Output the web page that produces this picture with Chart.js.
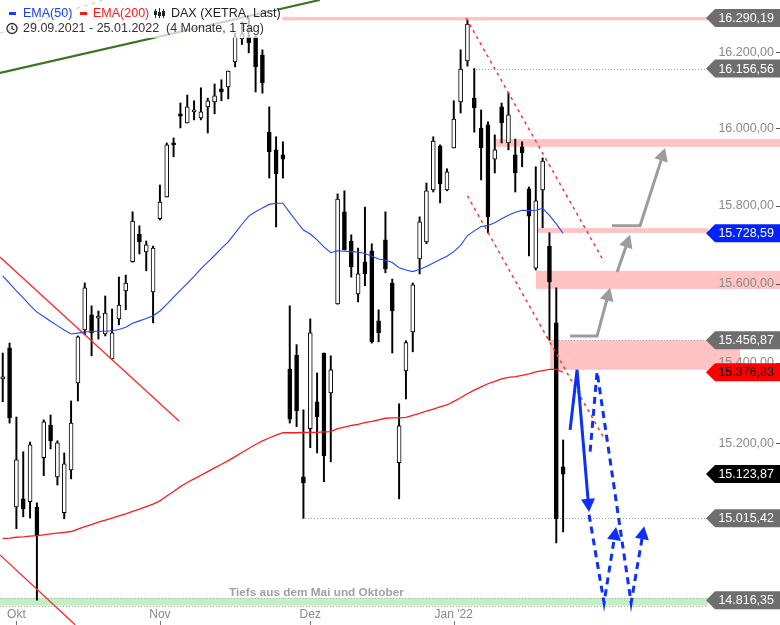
<!DOCTYPE html>
<html>
<head>
<meta charset="utf-8">
<script src="https://cdn.jsdelivr.net/npm/chart.js@4.4.1/dist/chart.umd.min.js"></script>
<style>
  html, body { margin: 0; padding: 0; background: #fff; }
  #chart { display: block; }
</style>
</head>
<body>
<canvas id="chart" width="780" height="625"></canvas>
<script>
// trading days shown
const dates = [
  '29.09.2021', '30.09.2021',
  '01.10.2021', '04.10.2021', '05.10.2021', '06.10.2021', '07.10.2021', '08.10.2021', '11.10.2021',
  '12.10.2021', '13.10.2021', '14.10.2021', '15.10.2021', '18.10.2021', '19.10.2021', '20.10.2021',
  '21.10.2021', '22.10.2021', '25.10.2021', '26.10.2021', '27.10.2021', '28.10.2021', '29.10.2021',
  '01.11.2021', '02.11.2021', '03.11.2021', '04.11.2021', '05.11.2021', '08.11.2021', '09.11.2021',
  '10.11.2021', '11.11.2021', '12.11.2021', '15.11.2021', '16.11.2021', '17.11.2021', '18.11.2021',
  '19.11.2021', '22.11.2021', '23.11.2021', '24.11.2021', '25.11.2021', '26.11.2021', '29.11.2021',
  '30.11.2021',
  '01.12.2021', '02.12.2021', '03.12.2021', '06.12.2021', '07.12.2021', '08.12.2021', '09.12.2021',
  '10.12.2021', '13.12.2021', '14.12.2021', '15.12.2021', '16.12.2021', '17.12.2021', '20.12.2021',
  '21.12.2021', '22.12.2021', '23.12.2021', '27.12.2021', '28.12.2021', '29.12.2021', '30.12.2021',
  '03.01.2022', '04.01.2022', '05.01.2022', '06.01.2022', '07.01.2022', '10.01.2022', '11.01.2022',
  '12.01.2022', '13.01.2022', '14.01.2022', '17.01.2022', '18.01.2022', '19.01.2022', '20.01.2022',
  '21.01.2022', '24.01.2022', '25.01.2022'
];

const open = [
  15360, 15438, 15043, 15063, 15056, 15043, 15164, 15245, 15117, 15029,
  15134, 15350, 15483, 15521, 15513, 15473, 15410, 15511, 15582, 15656,
  15727, 15681, 15579, 15766, 15822, 15962, 16038, 16014, 16043, 16027,
  16056, 16069, 16103, 16108, 16174, 16235, 16240, 16240, 16192, 15990,
  15944, 15931, 15385, 15420, 15117, 15236, 15303, 15425, 15325, 15549,
  15784, 15709, 15574, 15656, 15684, 15506, 15712, 15602, 15152, 15380,
  15478, 15663, 15707, 15840, 15954, 15840, 15949, 16069, 16177, 16079,
  16001, 16009, 15920, 16056, 15962, 15931, 15952, 15843, 15640, 15840,
  15696, 15501, 15142
];
const high = [
  15425, 15450, 15265, 15179, 15203, 15053, 15258, 15270, 15206, 15176,
  15305, 15468, 15602, 15544, 15531, 15569, 15536, 15617, 15622, 15784,
  15748, 15709, 15696, 15853, 15962, 15975, 16066, 16087, 16072, 16106,
  16079, 16116, 16127, 16150, 16250, 16280, 16290.19, 16243, 16206, 16056,
  15978, 15965, 15544, 15446, 15283, 15511, 15375, 15425, 15418, 15830,
  15838, 15725, 15691, 15796, 15702, 15534, 15784, 15612, 15298, 15456,
  15602, 15771, 15858, 15978, 15957, 15895, 16072, 16206, 16285, 16156.56,
  16048, 16017, 15983, 16066, 16092, 15972, 15965, 15848, 15900, 15923,
  15730, 15590, 15208
];
const low = [
  15303, 15250, 14990, 15019, 15016, 14816.35, 15120, 15186, 15097, 15014,
  15112, 15305, 15471, 15418, 15460, 15468, 15410, 15496, 15534, 15655,
  15676, 15633, 15501, 15763, 15822, 15926, 16001, 16014, 16022, 16022,
  15988, 16038, 16072, 16077, 16161, 16220, 16198, 16095, 16092, 15871,
  15745, 15871, 15250, 15241, 15015.42, 15189, 15176, 15105, 15154, 15548,
  15686, 15617, 15554, 15595, 15450, 15453, 15628, 15425, 15063, 15310,
  15428, 15625, 15702, 15835, 15807, 15838, 15949, 16040, 16163, 15990,
  15866, 15730, 15884, 15962, 15944, 15835, 15900, 15671, 15635, 15743,
  15456.87, 14955, 14982
];
const close = [
  15365, 15263, 15159, 15038, 15196, 14972, 15253, 15206, 15201, 15149,
  15250, 15466, 15590, 15476, 15518, 15526, 15476, 15546, 15602, 15760,
  15707, 15699, 15691, 15809, 15957, 15957, 16032, 16056, 16048, 16043,
  16072, 16085, 16095, 16150, 16240, 16248, 16224, 16161, 16119, 15939,
  15882, 15920, 15260, 15280, 15102, 15476, 15265, 15169, 15383, 15817,
  15686, 15643, 15625, 15625, 15453, 15476, 15638, 15531, 15243, 15451,
  15597, 15758, 15838, 15967, 15856, 15887, 16024, 16155, 16274, 16053,
  15949, 15771, 15944, 16014, 16035, 15884, 15936, 15773, 15812, 15915,
  15605, 15014, 15123.87
];

const ema50 = [
  15620, 15601, 15582, 15564, 15545, 15528, 15517, 15505, 15494, 15483,
  15473, 15475, 15478, 15479, 15480, 15480, 15481, 15484, 15490, 15500,
  15506, 15512, 15519, 15531, 15548, 15566, 15584, 15601, 15619, 15638,
  15655, 15672, 15690, 15707, 15729, 15752, 15773, 15784, 15794, 15803,
  15806, 15806, 15782, 15759, 15737, 15727, 15712, 15694, 15679, 15684,
  15683, 15682, 15681, 15677, 15670, 15663, 15660, 15654, 15641, 15635,
  15631, 15637, 15644, 15653, 15662, 15670, 15682, 15698, 15723, 15735,
  15746, 15749, 15756, 15766, 15775, 15783, 15788, 15787, 15788, 15793,
  15775, 15753, 15728.59
];
const ema200 = [
  14966, 14967, 14969, 14970, 14972, 14973, 14975, 14977, 14979, 14981,
  14983, 14989, 14995, 15000, 15006, 15011, 15016, 15021, 15026, 15032,
  15038, 15044, 15050, 15058, 15070, 15081, 15093, 15103, 15112, 15121,
  15130, 15139, 15148, 15157, 15167, 15177, 15187, 15197, 15206, 15213,
  15220, 15226, 15226, 15226, 15227, 15227, 15227, 15228, 15229, 15236,
  15240, 15244, 15247, 15251, 15254, 15258, 15262, 15263, 15263, 15264,
  15269, 15274, 15280, 15285, 15290, 15295, 15304, 15313, 15323, 15332,
  15340, 15348, 15354, 15360, 15364, 15366, 15369, 15373, 15378, 15381,
  15384, 15384, 15376.83
];

const priceTicks = [15200, 15400, 15600, 15800, 16000, 16200];
const monthNames = { '10': 'Okt', '11': 'Nov', '12': 'Dez', '01': "Jan '22" };

// drawn lines, [day index, price]
const redTrendA = [[-0.4, 15668], [25.8, 15255]];
const redTrendB = [[-0.4, 14926], [10.6, 14757]];
const greenTrend = [[-0.4, 16145], [46.4, 16338]];
const greenDashed = [[-0.4, 16250], [14.7, 16338]];
const redDotA = [[67.8, 16290], [88.0, 15656]];
const redDotB = [[68.0, 15825], [87.85, 15216]];

// zones [from, to, low, high]
const pinkZones = [
  [40.9, 103.2, 16284, 16293],
  [71.9, 113.8, 15952, 15972],
  [78.2, 103.2, 15730, 15742],
  [78.0, 113.8, 15587, 15633],
  [80.1, 107.9, 15383, 15456.87]
];
const greenZone = [-0.4, 103.2, 14803, 14822];
const dottedLevels = [[68.8, 16156.56], [80.5, 15456.87], [43.8, 15015.42]];

const grayArrows = [
  [[83.02, 15468], [86.97, 15468], [88.87, 15590]],
  [[89.90, 15630], [91.80, 15725]],
  [[89.16, 15748], [93.26, 15748], [96.92, 15949]]
];
const blueArrows = [
  [[83.02, 15233], [84.04, 15383], [85.80, 15031]],
  [[85.80, 15024], [87.99, 14810], [89.75, 14994]],
  [[85.95, 15179], [86.97, 15378], [91.95, 14810], [93.85, 14996]]
];

const FONT = "'Liberation Sans', Arial, sans-serif";
const xMin = -0.4, xMax = 103.2;

const fmt = v => {
  const s = Number(v).toFixed(2).split('.');
  return s[0].replace(/\B(?=(\d{3})+(?!\d))/g, '.') + ',' + s[1];
};

const monthTicks = [];
const monthLabels = [];
dates.forEach((d, i) => {
  const m = d.slice(3, 5);
  if (i > 0 && m !== dates[i - 1].slice(3, 5)) {
    monthTicks.push(i);
    monthLabels.push(monthNames[m]);
  }
});

const pts = arr => arr.map(p => ({ x: p[0], y: p[1] }));
const lineSet = (data, color, width, dash, extra) => Object.assign({
  type: 'line', data: pts(data), borderColor: color, borderWidth: width,
  borderDash: dash || [], pointRadius: 0, fill: false, order: 0
}, extra || {});

function drawArrow(ctx, p, color, dash) {
  const n = p.length;
  const tx = p[n - 1][0], ty = p[n - 1][1];
  const ang = Math.atan2(ty - p[n - 2][1], tx - p[n - 2][0]);
  const len = 13, hw = 7;
  const bx = tx - Math.cos(ang) * len, by = ty - Math.sin(ang) * len;
  ctx.strokeStyle = color;
  ctx.fillStyle = color;
  ctx.lineWidth = 3;
  ctx.setLineDash(dash);
  ctx.beginPath();
  ctx.moveTo(p[0][0], p[0][1]);
  for (let i = 1; i < n - 1; i++) ctx.lineTo(p[i][0], p[i][1]);
  ctx.lineTo(bx + Math.cos(ang) * 2, by + Math.sin(ang) * 2);
  ctx.stroke();
  ctx.setLineDash([]);
  ctx.beginPath();
  ctx.moveTo(tx, ty);
  ctx.lineTo(bx - Math.sin(ang) * hw, by + Math.cos(ang) * hw);
  ctx.lineTo(bx + Math.sin(ang) * hw, by - Math.cos(ang) * hw);
  ctx.closePath();
  ctx.fill();
}

const levelsPlugin = {
  id: 'levels',
  beforeDraw(chart) {
    const { ctx, scales: { x, y } } = chart;
    const px = v => x.getPixelForValue(v), py = v => y.getPixelForValue(v);
    ctx.save();
    ctx.fillStyle = '#ffc3c3';
    pinkZones.forEach(z => {
      ctx.fillRect(px(z[0]), py(z[3]), px(z[1]) - px(z[0]), py(z[2]) - py(z[3]));
    });
    // green zone
    const g = greenZone;
    const gy1 = py(g[3]), gy2 = py(g[2]);
    ctx.fillStyle = '#c6eec6';
    ctx.fillRect(px(g[0]), gy1, px(g[1]) - px(g[0]), gy2 - gy1);
    ctx.strokeStyle = '#9cbf9c';
    ctx.lineWidth = 1;
    ctx.setLineDash([1, 2]);
    [gy1, gy2].forEach(yy => {
      ctx.beginPath();
      ctx.moveTo(px(g[0]), Math.round(yy) + 0.5);
      ctx.lineTo(px(g[1]), Math.round(yy) + 0.5);
      ctx.stroke();
    });
    // dotted price levels
    ctx.strokeStyle = '#9a9a9a';
    dottedLevels.forEach(l => {
      const yy = Math.round(py(l[1])) + 0.5;
      ctx.beginPath();
      ctx.moveTo(px(l[0]), yy);
      ctx.lineTo(px(xMax), yy);
      ctx.stroke();
    });
    ctx.restore();
  }
};

const overlayPlugin = {
  id: 'overlay',
  afterDraw(chart) {
    const { ctx, scales: { x, y }, chartArea: ca } = chart;
    const px = v => x.getPixelForValue(v), py = v => y.getPixelForValue(v);
    const W = chart.width, H = chart.height;
    ctx.save();

    grayArrows.forEach(a => drawArrow(ctx, a.map(p => [px(p[0]), py(p[1])]), '#9c9c9c', []));
    blueArrows.forEach((a, k) => drawArrow(ctx, a.map(p => [px(p[0]), py(p[1])]), '#0b2fff', k === 0 ? [] : [7, 5]));

    // label for the green zone
    ctx.fillStyle = '#a0a0a0';
    ctx.font = 'bold 11.8px ' + FONT;
    ctx.textAlign = 'center';
    ctx.textBaseline = 'middle';
    ctx.fillText('Tiefs aus dem Mai und Oktober', px(45.9), py(14834.6));

    // small tick dashes on the price axis
    ctx.strokeStyle = '#555';
    ctx.lineWidth = 1;
    y.ticks.forEach(t => {
      const yy = Math.round(py(t.value)) + 0.5;
      ctx.beginPath();
      ctx.moveTo(W - 4, yy);
      ctx.lineTo(W, yy);
      ctx.stroke();
    });
    // month tick marks
    ctx.strokeStyle = '#777';
    monthTicks.forEach(m => {
      const xx = Math.round(px(m)) + 0.5;
      ctx.beginPath();
      ctx.moveTo(xx, H - 4);
      ctx.lineTo(xx, H);
      ctx.stroke();
    });

    // price badges
    const badges = [
      [high[36], '#6e6e6e', '#fff'],
      [high[69], '#6e6e6e', '#fff'],
      [ema50[ema50.length - 1], '#0022ff', '#fff'],
      [low[80], '#6e6e6e', '#fff'],
      [ema200[ema200.length - 1], '#ff0000', '#000'],
      [close[close.length - 1], '#000000', '#fff'],
      [low[44], '#6e6e6e', '#fff'],
      [low[5], '#6e6e6e', '#fff']
    ];
    ctx.font = '12.5px ' + FONT;
    ctx.textAlign = 'right';
    badges.forEach(b => {
      const yc = py(b[0]);
      ctx.fillStyle = b[1];
      ctx.beginPath();
      ctx.moveTo(ca.right - 2, yc);
      ctx.lineTo(ca.right + 7, yc - 9);
      ctx.lineTo(W, yc - 9);
      ctx.lineTo(W, yc + 9);
      ctx.lineTo(ca.right + 7, yc + 9);
      ctx.closePath();
      ctx.fill();
      ctx.fillStyle = b[2];
      ctx.fillText(fmt(b[0]), W - 6, yc + 0.5);
    });

    // header box
    ctx.fillStyle = 'rgba(255,255,255,0.72)';
    ctx.fillRect(0, 0, 278, 38);
    ctx.font = '12.5px ' + FONT;
    ctx.textAlign = 'left';
    ctx.fillStyle = '#1a3cff';
    ctx.fillRect(9, 12, 7, 3);
    ctx.fillText('EMA(50)', 23, 13.5);
    ctx.fillStyle = '#ff1a1a';
    ctx.fillRect(80, 12, 7, 3);
    ctx.fillText('EMA(200)', 93, 13.5);
    // candle glyph
    ctx.fillStyle = '#222';
    ctx.strokeStyle = '#222';
    ctx.lineWidth = 1;
    [[155.5, 9, 18, 11, 15], [159.5, 8, 18, 12, 16], [163.5, 9, 18, 11, 16]].forEach(c => {
      ctx.beginPath();
      ctx.moveTo(c[0], c[1]);
      ctx.lineTo(c[0], c[2]);
      ctx.stroke();
      ctx.fillRect(c[0] - 1.5, c[3], 3, c[4] - c[3]);
    });
    ctx.fillStyle = '#222';
    ctx.fillText('DAX (XETRA, Last)', 171, 13.5);
    // clock glyph
    ctx.strokeStyle = '#333';
    ctx.lineWidth = 1.3;
    ctx.beginPath();
    ctx.arc(12, 28.5, 5, 0, Math.PI * 2);
    ctx.stroke();
    ctx.beginPath();
    ctx.moveTo(12, 25.5);
    ctx.lineTo(12, 28.5);
    ctx.lineTo(14.5, 30);
    ctx.stroke();
    ctx.fillStyle = '#333';
    ctx.fillText(dates[0] + ' - ' + dates[dates.length - 1], 23, 29);
    ctx.fillText('(4 Monate, 1 Tag)', 166, 29);

    ctx.restore();
  }
};

const wickData = dates.map((d, i) => ({ x: i, y: [low[i], high[i]] }));
const bodyData = dates.map((d, i) => ({ x: i, y: [open[i], close[i]] }));
const bodyColors = dates.map((d, i) => (close[i] >= open[i] ? '#ffffff' : '#000000'));

new Chart(document.getElementById('chart'), {
  type: 'bar',
  data: {
    datasets: [
      {
        type: 'bar', data: wickData, backgroundColor: '#000', borderWidth: 0,
        barThickness: 1.3, grouped: false, order: 5
      },
      {
        type: 'bar', data: bodyData, backgroundColor: bodyColors, borderColor: '#000',
        borderWidth: 1, borderSkipped: false, barThickness: 4, grouped: false,
        minBarLength: 1, order: 4
      },
      lineSet(dates.map((d, i) => [i, ema200[i]]), '#ff1a1a', 1.3),
      lineSet(dates.map((d, i) => [i, ema50[i]]), '#2244ff', 1.1),
      lineSet(redTrendA, '#ff2a2a', 1.3),
      lineSet(redTrendB, '#ff2a2a', 1.3, [], { clip: false }),
      lineSet(greenTrend, '#3b7422', 2.2),
      lineSet(greenDashed, '#5a8a3a', 1.3, [4, 4]),
      lineSet(redDotA, '#ff3030', 1.5, [3, 4]),
      lineSet(redDotB, '#ff3030', 1.5, [3, 4])
    ]
  },
  options: {
    responsive: false,
    animation: false,
    events: [],
    layout: { padding: { top: 0, left: 0, bottom: 0, right: 6 } },
    plugins: { legend: { display: false }, tooltip: { enabled: false } },
    scales: {
      x: {
        type: 'linear', min: xMin, max: xMax, bounds: 'data', offset: false,
        grid: { display: false, drawTicks: false }, border: { display: false },
        afterBuildTicks: s => { s.ticks = monthTicks.map(v => ({ value: v })); },
        afterFit: s => { s.height = 18; s.paddingLeft = 0; s.paddingRight = 0; },
        ticks: {
          padding: 0, color: '#888', font: { size: 12, family: FONT },
          maxRotation: 0, autoSkip: false,
          callback: (v, i) => monthLabels[i]
        }
      },
      y: {
        type: 'logarithmic', position: 'right', min: 14799.9, max: 16338, bounds: 'data',
        grid: { display: false, drawTicks: false }, border: { display: false },
        afterBuildTicks: s => { s.ticks = priceTicks.map(v => ({ value: v })); },
        afterFit: s => { s.width = 66; s.paddingTop = 0; s.paddingBottom = 0; },
        ticks: {
          crossAlign: 'far', padding: 4, color: '#8a8a8a', font: { size: 12.5, family: FONT },
          callback: v => fmt(v)
        }
      }
    }
  },
  plugins: [levelsPlugin, overlayPlugin]
});
</script>
</body>
</html>
